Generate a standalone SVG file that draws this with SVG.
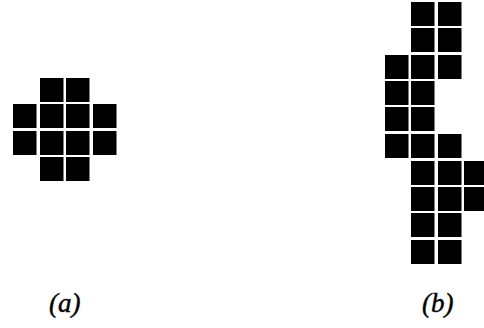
<svg xmlns="http://www.w3.org/2000/svg" width="484" height="328" viewBox="0 0 484 328">
<style>
.l{font-family:"Liberation Serif","Times New Roman",serif;font-style:italic;font-size:27px;fill:#000;stroke:#000;stroke-width:0.4}
</style>
<rect width="484" height="328" fill="#fff"/>
<defs><rect id="s" width="23.5" height="24"/></defs>
<g id="fig-a">
<use href="#s" x="40" y="78"/><use href="#s" x="66" y="78"/>
<use href="#s" x="13" y="104"/><use href="#s" x="40" y="104"/><use href="#s" x="66" y="104"/><use href="#s" x="93" y="104"/>
<use href="#s" x="13" y="131"/><use href="#s" x="40" y="131"/><use href="#s" x="66" y="131"/><use href="#s" x="93" y="131"/>
<use href="#s" x="40" y="157"/><use href="#s" x="66" y="157"/>
</g>
<g id="fig-b">
<use href="#s" x="411" y="2"/><use href="#s" x="438" y="2"/>
<use href="#s" x="411" y="28"/><use href="#s" x="438" y="28"/>
<use href="#s" x="385" y="55"/><use href="#s" x="411" y="55"/><use href="#s" x="438" y="55"/>
<use href="#s" x="385" y="81"/><use href="#s" x="411" y="81"/>
<use href="#s" x="385" y="107"/><use href="#s" x="411" y="107"/>
<use href="#s" x="385" y="134"/><use href="#s" x="411" y="134"/><use href="#s" x="438" y="134"/>
<use href="#s" x="411" y="161"/><use href="#s" x="438" y="161"/><use href="#s" x="464" y="161"/>
<use href="#s" x="411" y="187"/><use href="#s" x="438" y="187"/><use href="#s" x="464" y="187"/>
<use href="#s" x="411" y="213"/><use href="#s" x="438" y="213"/>
<use href="#s" x="411" y="240"/><use href="#s" x="438" y="240"/>
</g>
<text class="l" x="49" y="312">(a)</text>
<text class="l" x="422" y="312">(b)</text>
</svg>
